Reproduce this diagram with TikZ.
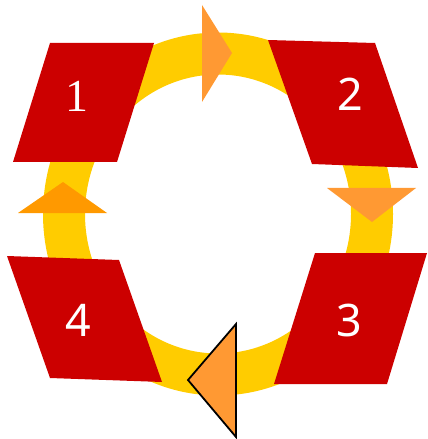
\documentclass[tikz,border=0pt]{standalone}
\usepackage{fontspec}
\newfontfamily\serifnum{Liberation Serif}
\newfontfamily\sansnum{Noto Sans}
\definecolor{ringyellow}{HTML}{FFCC00}
\definecolor{boxred}{HTML}{CC0000}
\definecolor{arrowA}{HTML}{FF9933}
\definecolor{arrowB}{HTML}{FF9900}
\begin{document}
\begin{tikzpicture}[x=1bp,y=-1bp,
  ring/.style={draw=ringyellow,line width=42bp},
  stepbox/.style={fill=boxred},
  num/.style={text=white,inner sep=0pt},
  tri/.style={fill=arrowA},
  trib/.style={fill=arrowB}]
\useasboundingbox (0,0) rectangle (427,439);
% ring
\draw[ring] (218,214) ellipse [x radius=154, y radius=160.5];
% boxes
\fill[stepbox] (50,43) -- (154,43) -- (117,162) -- (13,162) -- cycle;
\fill[stepbox] (268,40) -- (375,43) -- (418,168) -- (312,164) -- cycle;
\fill[stepbox] (315,253) -- (427,253) -- (387,384) -- (274,384) -- cycle;
\fill[stepbox] (7,256) -- (119,260) -- (162,382) -- (50,378) -- cycle;
% labels
\node[num] (n1) at (77,96) {\serifnum\fontsize{46}{50}\selectfont 1};
\node[num] (n2) at (350,94) {\sansnum\fontsize{45}{50}\selectfont 2};
\node[num] (n3) at (349,320) {\sansnum\fontsize{45}{50}\selectfont 3};
\node[num] (n4) at (78,320) {\sansnum\fontsize{45}{50}\selectfont 4};
% arrows
\fill[tri] (202,5) -- (232,53) -- (202,102) -- cycle;
\fill[tri] (327,188) -- (416,188) -- (372,222) -- cycle;
\fill[trib] (18,213) -- (63,182) -- (107,213) -- cycle;
\filldraw[fill=arrowA,draw=black,line width=1.8bp,line join=miter] (236,324) -- (188,380) -- (236,437) -- cycle;
\end{tikzpicture}
\end{document}
